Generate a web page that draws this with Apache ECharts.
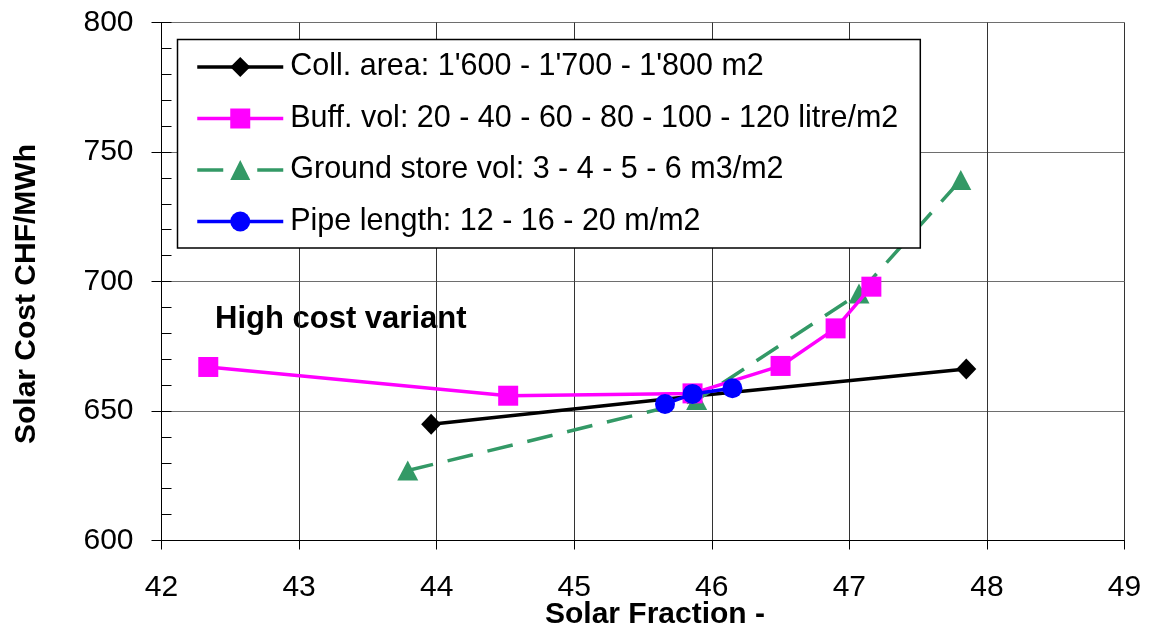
<!DOCTYPE html>
<html>
<head>
<meta charset="utf-8">
<script src="https://cdn.jsdelivr.net/npm/echarts@6/dist/echarts.min.js"></script>
<style>html,body{margin:0;padding:0;background:#fff}#c{width:1149px;height:627px}</style>
</head>
<body>
<div id="c"></div>
<script>
var collArea = [[43.96, 644.9], [45.86, 655.7], [47.85, 666.2]];
var buffVol = [[42.34, 667.0], [44.52, 655.9], [45.86, 656.8], [46.50, 667.4], [46.90, 681.9], [47.16, 698.0]];
var groundStore = [[43.79, 627.0], [45.89, 654.2], [47.07, 695.4], [47.81, 739.2]];
var pipeLength = [[45.66, 652.7], [45.86, 656.6], [46.15, 658.8]];
var seriesNames = ['Coll. area: 1\'600 - 1\'700 - 1\'800 m2', 'Buff. vol: 20 - 40 - 60 - 80 - 100 - 120 litre/m2', 'Ground store vol: 3 - 4 - 5 - 6 m3/m2', 'Pipe length: 12 - 16 - 20 m/m2'];
var xName = 'Solar Fraction -';
var yName = 'Solar Cost CHF/MWh';
var noteText = 'High cost variant';

var FONT = '"Liberation Sans", Arial, sans-serif';
var chart = echarts.init(document.getElementById('c'));
chart.setOption({
  animation: false,
  backgroundColor: '#fff',
  textStyle: {fontFamily: FONT},
  grid: {left: 161.5, right: 24.5, top: 22.5, bottom: 86.5, containLabel: false, outerBoundsMode: 'none'},
  xAxis: {
    type: 'value', min: 42, max: 49, interval: 1,
    name: xName, nameLocation: 'middle', nameGap: 59, nameMoveOverlap: false,
    nameTextStyle: {fontFamily: FONT, fontSize: 30, fontWeight: 'bold', color: '#000', lineHeight: 30, padding: [0, 0, 0, 24]},
    axisLine: {lineStyle: {color: '#000', width: 1}},
    axisTick: {show: true, length: 9, lineStyle: {color: '#000'}},
    axisLabel: {fontFamily: FONT, fontSize: 30, color: '#000', margin: 32},
    splitLine: {show: true, lineStyle: {color: '#333', width: 1}}
  },
  yAxis: [{
    type: 'value', min: 600, max: 800, interval: 50, position: 'left',
    name: yName, nameLocation: 'middle', nameGap: 120, nameRotate: 90, nameMoveOverlap: false,
    nameTextStyle: {fontFamily: FONT, fontSize: 30, fontWeight: 'bold', color: '#000', lineHeight: 30, padding: [0, 25, 0, 0]},
    axisLine: {show: true, lineStyle: {color: '#000', width: 1}},
    axisTick: {show: true, length: 10, lineStyle: {color: '#000'}},
    axisLabel: {fontFamily: FONT, fontSize: 30, color: '#000', margin: 28},
    splitLine: {show: true, lineStyle: {color: '#6e6e6e', width: 1}}
  }, {
    type: 'value', min: 600, max: 800, interval: 10, position: 'left', offset: 0,
    axisLine: {show: false},
    axisTick: {show: true, inside: true, length: 10, lineStyle: {color: '#000'}},
    axisLabel: {show: false},
    splitLine: {show: false}
  }],
  legend: {
    orient: 'vertical', left: 177.5, top: 39.5,
    data: seriesNames,
    backgroundColor: '#fff', borderColor: '#000', borderWidth: 1.5, borderRadius: 0,
    padding: [12, 22, 11, 18],
    itemWidth: 86, itemHeight: 25, itemGap: 20.5,
    lineStyle: {width: 3.5},
    textStyle: {fontFamily: FONT, fontSize: 30.5, color: '#000', lineHeight: 30, padding: [0, 0, 0, 2]},
    selectedMode: false
  },
  graphic: [{
    type: 'text', left: 215, top: 304,
    style: {text: noteText, fontFamily: FONT, fontSize: 31, fontWeight: 'bold', fill: '#000'}
  }],
  series: [{
    name: seriesNames[0], type: 'line', data: collArea,
    symbol: 'diamond', symbolSize: [20, 21],
    lineStyle: {color: '#000', width: 3.5}, itemStyle: {color: '#000'}, z: 2
  }, {
    name: seriesNames[2], type: 'line', data: groundStore,
    symbol: 'triangle', symbolSize: [21, 20],
    lineStyle: {color: '#339966', width: 3.5, type: [26, 15]}, itemStyle: {color: '#339966'}, z: 3,
    legendLineStyle: {}
  }, {
    name: seriesNames[1], type: 'line', data: buffVol,
    symbol: 'rect', symbolSize: 20,
    lineStyle: {color: '#ff00ff', width: 3.5}, itemStyle: {color: '#ff00ff'}, z: 4
  }, {
    name: seriesNames[3], type: 'line', data: pipeLength,
    symbol: 'circle', symbolSize: 20,
    lineStyle: {color: '#0000ff', width: 3.5}, itemStyle: {color: '#0000ff'}, z: 5
  }]
});
chart.setOption({
  legend: {
    data: [
      {name: seriesNames[0]},
      {name: seriesNames[1]},
      {name: seriesNames[2], lineStyle: {width: 3.5, type: [26, 34]}},
      {name: seriesNames[3]}
    ]
  }
});
</script>
</body>
</html>
